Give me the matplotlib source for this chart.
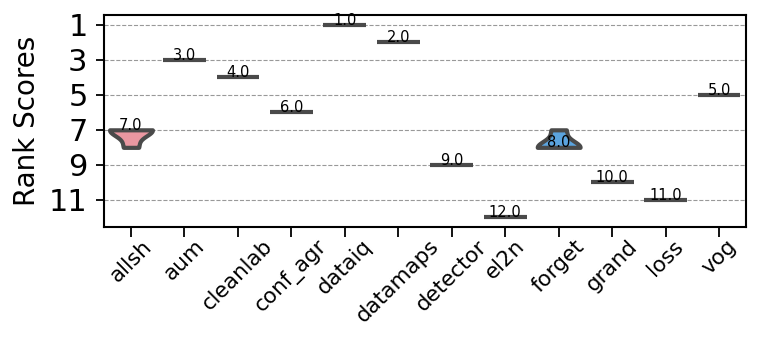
import numpy as np
import matplotlib
matplotlib.use("Agg")
import matplotlib.pyplot as plt

# rank of each method (repeated runs)
methods = ["allsh", "aum", "cleanlab", "conf_agr", "dataiq", "datamaps",
           "detector", "el2n", "forget", "grand", "loss", "vog"]
ranks = [
    [7, 7, 7, 8],
    [3], [4], [6], [1], [2], [9], [12],
    [7, 8, 8, 8],
    [10], [11], [5],
]
fill_colors = {"allsh": "#ea97a1", "forget": "#5ba4df"}
edge = "#4a4a4a"


def kde(vals, grid):
    vals = np.asarray(vals, float)
    bw = vals.std(ddof=1) * len(vals) ** (-1 / 5)
    d = np.exp(-0.5 * ((grid[:, None] - vals[None, :]) / bw) ** 2).sum(axis=1)
    return d / d.max()


fig = plt.figure(figsize=(7.61, 3.41), dpi=100)
ax = fig.add_axes([0.137, 0.334, 0.843, 0.622])

for i, (m, r) in enumerate(zip(methods, ranks)):
    if len(set(r)) == 1:
        ax.hlines(r[0], i - 0.4, i + 0.4, color=edge, lw=3, zorder=3)
    else:
        y = np.linspace(min(r), max(r), 200)
        w = kde(r, y) * 0.4
        ax.fill_betweenx(y, i - w, i + w, facecolor=fill_colors.get(m, "#999999"),
                         edgecolor=edge, lw=3, joinstyle="round", zorder=3)
    med = np.median(r)
    ax.text(i, med, f"{med:.1f}", ha="center", va="baseline", fontsize=10.5, zorder=4)

ax.set_xlim(-0.5, len(methods) - 0.5)
ax.margins(y=0.05)
ax.invert_yaxis()
ax.set_yticks([1, 3, 5, 7, 9, 11])
ax.set_xticks(range(len(methods)))
ax.set_xticklabels(methods, rotation=45, fontsize=15.5)
ax.tick_params(axis="y", labelsize=22, length=6, width=1.3, pad=6)
ax.tick_params(axis="x", length=7.5, width=1.3, pad=-1)
ax.set_ylabel("Rank Scores", fontsize=20, labelpad=6)
ax.grid(axis="y", ls="--", color="#999999", lw=0.8)
ax.set_axisbelow(True)
for s in ax.spines.values():
    s.set_linewidth(1.5)

fig.savefig("out.png", dpi=100)
